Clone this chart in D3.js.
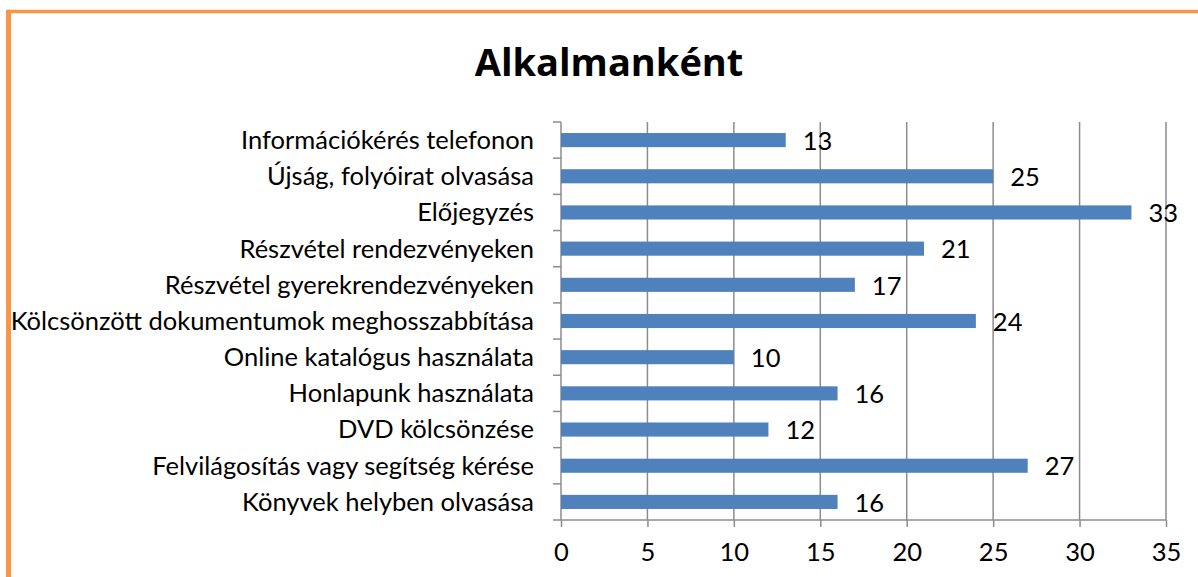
<!DOCTYPE html>
<html>
<head>
<meta charset="utf-8">
<script src="https://cdn.jsdelivr.net/npm/d3@7"></script>
<style>
  body { margin: 0; background: #fff; }
  text { font-family: Lato, "Open Sans", sans-serif; fill: #000; }
</style>
</head>
<body>
<div id="chart"></div>
<script>
var svgWidth = 1198;
var svgHeight = 577;

// chart data, top to bottom as shown
var categories = [
  "Információkérés telefonon",
  "Újság, folyóirat olvasása",
  "Előjegyzés",
  "Részvétel rendezvényeken",
  "Részvétel gyerekrendezvényeken",
  "Kölcsönzött dokumentumok meghosszabbítása",
  "Online katalógus használata",
  "Honlapunk használata",
  "DVD kölcsönzése",
  "Felvilágosítás vagy segítség kérése",
  "Könyvek helyben olvasása"
];
var values = [13, 25, 33, 21, 17, 24, 10, 16, 12, 27, 16];
var xTicks = [0, 5, 10, 15, 20, 25, 30, 35];

var margin = { top: 122, right: 32, bottom: 57, left: 561 };
var width = svgWidth - margin.left - margin.right;
var height = svgHeight - margin.top - margin.bottom;
var labelSize = 25.5;

var svg = d3.select("#chart")
  .append("svg")
  .attr("width", svgWidth)
  .attr("height", svgHeight);

// orange frame (top and left edges visible)
svg.append("line")
  .attr("x1", 6).attr("x2", svgWidth)
  .attr("y1", 11.5).attr("y2", 11.5)
  .attr("stroke", "#F79646").attr("stroke-width", 3.5);
svg.append("line")
  .attr("x1", 8.5).attr("x2", 8.5)
  .attr("y1", 10).attr("y2", svgHeight)
  .attr("stroke", "#F79646").attr("stroke-width", 5);

svg.append("text")
  .attr("x", 609)
  .attr("y", 76)
  .attr("text-anchor", "middle")
  .style("font-family", "'Open Sans', sans-serif")
  .style("font-size", "38px")
  .style("font-weight", "bold")
  .text("Alkalmanként");

var chartGroup = svg.append("g")
  .attr("transform", `translate(${margin.left}, ${margin.top})`);

var xScale = d3.scaleLinear()
  .domain([0, 35])
  .range([0, width]);

var yScale = d3.scaleBand()
  .domain(categories)
  .range([0, height])
  .paddingInner(0.61)
  .paddingOuter(0.305);

// vertical gridlines
chartGroup.selectAll(".grid")
  .data(xTicks.slice(1))
  .enter()
  .append("line")
  .attr("x1", d => xScale(d))
  .attr("x2", d => xScale(d))
  .attr("y1", 0)
  .attr("y2", height)
  .attr("stroke", "#8C8C8C")
  .attr("stroke-width", 1.5);

// bottom axis
var bottomAxis = d3.axisBottom(xScale)
  .tickValues(xTicks)
  .tickSize(7)
  .tickPadding(16);
var xAxis = chartGroup.append("g")
  .attr("transform", `translate(0, ${height})`)
  .call(bottomAxis);
xAxis.select(".domain").attr("stroke", "#8C8C8C").attr("stroke-width", 1.5)
  .attr("d", `M0,0H${width}`);
xAxis.selectAll(".tick line").attr("stroke", "#8C8C8C").attr("stroke-width", 1.5);
xAxis.selectAll(".tick text")
  .style("font-size", labelSize + "px")
  .style("font-family", "Lato, sans-serif");

// left axis: ticks between categories
var boundaries = d3.range(categories.length + 1).map(i => i * height / categories.length);
chartGroup.append("line")
  .attr("x1", 0).attr("x2", 0)
  .attr("y1", 0).attr("y2", height)
  .attr("stroke", "#8C8C8C").attr("stroke-width", 1.5);
chartGroup.selectAll(".ytick")
  .data(boundaries)
  .enter()
  .append("line")
  .attr("x1", -8).attr("x2", 0)
  .attr("y1", d => d).attr("y2", d => d)
  .attr("stroke", "#8C8C8C").attr("stroke-width", 1.5);

chartGroup.selectAll(".ylabel")
  .data(categories)
  .enter()
  .append("text")
  .attr("x", -27)
  .attr("y", d => yScale(d) + yScale.bandwidth() / 2)
  .attr("dy", "0.35em")
  .attr("text-anchor", "end")
  .style("font-size", labelSize + "px")
  .text(d => d);

// bars
chartGroup.selectAll(".bar")
  .data(values)
  .enter()
  .append("rect")
  .attr("x", 0)
  .attr("y", (d, i) => yScale(categories[i]))
  .attr("width", d => xScale(d))
  .attr("height", yScale.bandwidth())
  .attr("fill", "#4F81BD");

// value labels
chartGroup.selectAll(".value")
  .data(values)
  .enter()
  .append("text")
  .attr("x", d => xScale(d) + 17)
  .attr("y", (d, i) => yScale(categories[i]) + yScale.bandwidth() / 2)
  .attr("dy", "0.38em")
  .style("font-size", labelSize + "px")
  .text(d => d);
</script>
</body>
</html>
